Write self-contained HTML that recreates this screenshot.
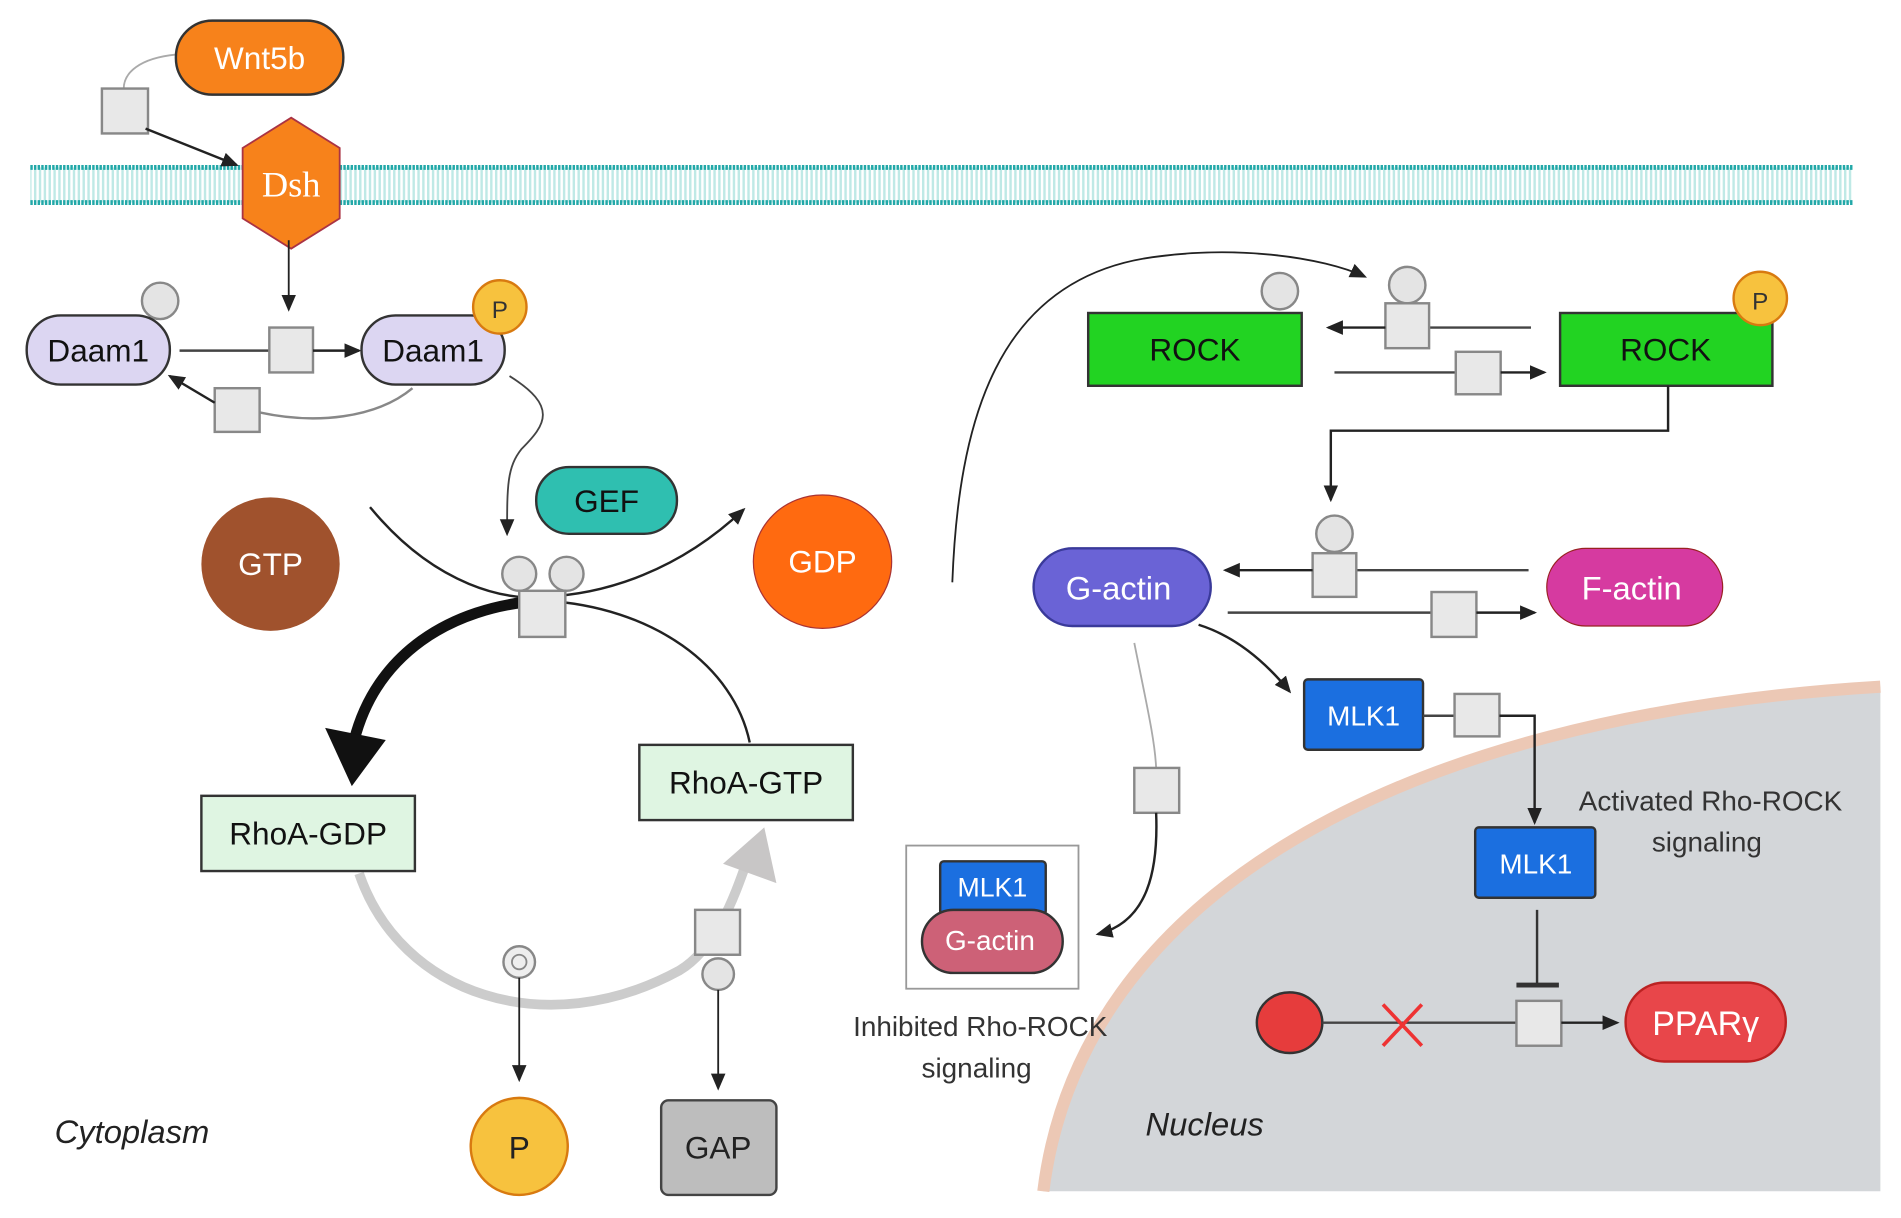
<!DOCTYPE html>
<html><head><meta charset="utf-8"><style>
html,body{margin:0;padding:0;background:#fff;}
svg{display:block;font-family:"Liberation Sans",sans-serif;}
</style></head><body>
<svg width="1901" height="1218" viewBox="0 0 1567 1004" xmlns="http://www.w3.org/2000/svg">
<defs>
<marker id="a" markerWidth="14" markerHeight="14" refX="12" refY="7" orient="auto" markerUnits="userSpaceOnUse"><path d="M0,1 L14,7 L0,13 Z" fill="#222"/></marker>
<pattern id="mem" width="4" height="30" patternUnits="userSpaceOnUse"><rect x="0" y="0" width="2" height="30" fill="#bfe9e6"/></pattern>
</defs>
<path d="M860,982 C890,740 1150,590 1550,566 L1550,982 Z" fill="#d3d6d9"/>
<path d="M860,982 C890,740 1150,590 1550,566" fill="none" stroke="#ecc8b5" stroke-width="10"/>
<rect x="25" y="138" width="1502" height="29" fill="url(#mem)"/>
<line x1="25" y1="138" x2="1527" y2="138" stroke="#22a8a8" stroke-width="4" stroke-dasharray="2,1"/>
<line x1="25" y1="167" x2="1527" y2="167" stroke="#22a8a8" stroke-width="4" stroke-dasharray="2,1"/>
<path d="M145,45 C115,48 102,60 102,73" fill="none" stroke="#aaa" stroke-width="1.5"/>
<rect x="145" y="17" width="138" height="61" rx="30" fill="#f7821b" stroke="#333" stroke-width="2"/>
<text x="214" y="57" font-size="26" fill="#fff" text-anchor="middle">Wnt5b</text>
<rect x="84" y="73" width="38" height="37" fill="#e8e8e8" stroke="#888" stroke-width="2"/>
<line x1="120" y1="106" x2="195" y2="136" stroke="#222" stroke-width="2" marker-end="url(#a)"/>
<polygon points="240,97 280,122 280,180 240,205 200,180 200,122" fill="#f7821b" stroke="#a34" stroke-width="1.5"/>
<text x="240" y="162" font-size="30" fill="#fff" text-anchor="middle" font-family="Liberation Serif,serif">Dsh</text>
<line x1="238" y1="198" x2="238" y2="255" stroke="#222" stroke-width="1.5" marker-end="url(#a)"/>
<circle cx="132" cy="248" r="15" fill="#e4e4e4" stroke="#888" stroke-width="2"/>
<rect x="22" y="260" width="118" height="57" rx="28" fill="#dcd6f2" stroke="#333" stroke-width="2"/>
<text x="81" y="298" font-size="26" fill="#111" text-anchor="middle">Daam1</text>
<line x1="148" y1="289" x2="222" y2="289" stroke="#444" stroke-width="2"/>
<rect x="222" y="270" width="36" height="37" fill="#e8e8e8" stroke="#888" stroke-width="2"/>
<line x1="258" y1="289" x2="296" y2="289" stroke="#222" stroke-width="2" marker-end="url(#a)"/>
<rect x="298" y="260" width="118" height="57" rx="28" fill="#dcd6f2" stroke="#333" stroke-width="2"/>
<text x="357" y="298" font-size="26" fill="#111" text-anchor="middle">Daam1</text>
<circle cx="412" cy="253" r="22" fill="#f7c23e" stroke="#d87a10" stroke-width="2"/>
<text x="412" y="262" font-size="20" fill="#333" text-anchor="middle">P</text>
<path d="M340,320 C310,345 260,350 214,340" fill="none" stroke="#888" stroke-width="2"/>
<rect x="177" y="320" width="37" height="36" fill="#e8e8e8" stroke="#888" stroke-width="2"/>
<line x1="177" y1="332" x2="140" y2="310" stroke="#222" stroke-width="2" marker-end="url(#a)"/>
<path d="M420,310 C460,335 450,350 430,370 C418,385 418,400 418,440" fill="none" stroke="#444" stroke-width="1.5" marker-end="url(#a)"/>
<rect x="442" y="385" width="116" height="55" rx="27" fill="#2fbfb0" stroke="#333" stroke-width="2"/>
<text x="500" y="422" font-size="26" fill="#111" text-anchor="middle">GEF</text>
<ellipse cx="223" cy="465" rx="57" ry="55" fill="#a0522d"/>
<text x="223" y="474" font-size="26" fill="#fff" text-anchor="middle">GTP</text>
<ellipse cx="678" cy="463" rx="57" ry="55" fill="#ff6a10" stroke="#a33" stroke-width="1"/>
<text x="678" y="472" font-size="26" fill="#fff" text-anchor="middle">GDP</text>
<path d="M305,418 C360,485 420,495 447,492 C500,490 560,470 613,420" fill="none" stroke="#222" stroke-width="2" marker-end="url(#a)"/>
<path d="M447,495 C370,500 310,540 292,610" fill="none" stroke="#111" stroke-width="9"/>
<polygon points="268,600 318,610 290,648" fill="#111"/>
<path d="M447,495 C540,500 605,550 618,612" fill="none" stroke="#222" stroke-width="2"/>
<circle cx="428" cy="473" r="14" fill="#e4e4e4" stroke="#888" stroke-width="2"/>
<circle cx="467" cy="473" r="14" fill="#e4e4e4" stroke="#888" stroke-width="2"/>
<rect x="428" y="487" width="38" height="38" fill="#e8e8e8" stroke="#888" stroke-width="2"/>
<path d="M296,720 C330,820 450,860 560,800 C590,782 605,740 615,712" fill="none" stroke="#ccc" stroke-width="8"/>
<polygon points="596,712 640,728 630,682" fill="#c8c6c6"/>
<rect x="166" y="656" width="176" height="62" fill="#dff5e2" stroke="#333" stroke-width="2"/>
<text x="254" y="696" font-size="26" fill="#111" text-anchor="middle">RhoA-GDP</text>
<rect x="527" y="614" width="176" height="62" fill="#dff5e2" stroke="#333" stroke-width="2"/>
<text x="615" y="654" font-size="26" fill="#111" text-anchor="middle">RhoA-GTP</text>
<circle cx="428" cy="793" r="13" fill="#eee" stroke="#888" stroke-width="2"/>
<circle cx="428" cy="793" r="6" fill="none" stroke="#888" stroke-width="1.5"/>
<line x1="428" y1="806" x2="428" y2="890" stroke="#222" stroke-width="1.5" marker-end="url(#a)"/>
<circle cx="428" cy="945" r="40" fill="#f7c23e" stroke="#d87a10" stroke-width="2"/>
<text x="428" y="955" font-size="26" fill="#222" text-anchor="middle">P</text>
<rect x="573" y="750" width="37" height="37" fill="#e8e8e8" stroke="#888" stroke-width="2"/>
<circle cx="592" cy="803" r="13" fill="#e4e4e4" stroke="#888" stroke-width="2"/>
<line x1="592" y1="816" x2="592" y2="897" stroke="#222" stroke-width="1.5" marker-end="url(#a)"/>
<rect x="545" y="907" width="95" height="78" rx="6" fill="#bdbdbd" stroke="#444" stroke-width="2"/>
<text x="592" y="955" font-size="26" fill="#222" text-anchor="middle">GAP</text>
<text x="45" y="942" font-size="27" font-style="italic" fill="#222">Cytoplasm</text>
<path d="M785,480 C790,350 820,230 950,212 C1020,202 1090,212 1125,228" fill="none" stroke="#222" stroke-width="1.5" marker-end="url(#a)"/>
<circle cx="1055" cy="240" r="15" fill="#e4e4e4" stroke="#888" stroke-width="2"/>
<rect x="897" y="258" width="176" height="60" fill="#22d322" stroke="#333" stroke-width="2"/>
<text x="985" y="297" font-size="26" fill="#111" text-anchor="middle">ROCK</text>
<line x1="1262" y1="270" x2="1178" y2="270" stroke="#444" stroke-width="2"/>
<circle cx="1160" cy="235" r="15" fill="#e4e4e4" stroke="#888" stroke-width="2"/>
<rect x="1142" y="250" width="36" height="37" fill="#e8e8e8" stroke="#888" stroke-width="2"/>
<line x1="1142" y1="270" x2="1095" y2="270" stroke="#222" stroke-width="2" marker-end="url(#a)"/>
<line x1="1100" y1="307" x2="1200" y2="307" stroke="#444" stroke-width="2"/>
<rect x="1200" y="290" width="37" height="35" fill="#e8e8e8" stroke="#888" stroke-width="2"/>
<line x1="1237" y1="307" x2="1273" y2="307" stroke="#222" stroke-width="2" marker-end="url(#a)"/>
<rect x="1286" y="258" width="175" height="60" fill="#22d322" stroke="#333" stroke-width="2"/>
<text x="1373" y="297" font-size="26" fill="#111" text-anchor="middle">ROCK</text>
<circle cx="1451" cy="246" r="22" fill="#f7c23e" stroke="#d87a10" stroke-width="2"/>
<text x="1451" y="255" font-size="20" fill="#333" text-anchor="middle">P</text>
<polyline points="1375,318 1375,355 1097,355 1097,412" fill="none" stroke="#222" stroke-width="2" marker-end="url(#a)"/>
<rect x="852" y="452" width="146" height="64" rx="32" fill="#6a63d6" stroke="#3a3a9a" stroke-width="2"/>
<text x="922" y="494" font-size="27" fill="#fff" text-anchor="middle">G-actin</text>
<rect x="1275" y="452" width="145" height="64" rx="32" fill="#d63aa0" stroke="#922" stroke-width="1"/>
<text x="1345" y="494" font-size="27" fill="#fff" text-anchor="middle">F-actin</text>
<line x1="1260" y1="470" x2="1118" y2="470" stroke="#444" stroke-width="2"/>
<circle cx="1100" cy="440" r="15" fill="#e4e4e4" stroke="#888" stroke-width="2"/>
<rect x="1082" y="456" width="36" height="36" fill="#e8e8e8" stroke="#888" stroke-width="2"/>
<line x1="1082" y1="470" x2="1010" y2="470" stroke="#222" stroke-width="2" marker-end="url(#a)"/>
<line x1="1012" y1="505" x2="1180" y2="505" stroke="#444" stroke-width="2"/>
<rect x="1180" y="488" width="37" height="37" fill="#e8e8e8" stroke="#888" stroke-width="2"/>
<line x1="1217" y1="505" x2="1265" y2="505" stroke="#222" stroke-width="2" marker-end="url(#a)"/>
<path d="M988,515 C1020,525 1045,548 1063,570" fill="none" stroke="#222" stroke-width="2" marker-end="url(#a)"/>
<rect x="1075" y="560" width="98" height="58" rx="3" fill="#1b6fe0" stroke="#333" stroke-width="2"/>
<text x="1124" y="598" font-size="23" fill="#fff" text-anchor="middle">MLK1</text>
<line x1="1173" y1="590" x2="1199" y2="590" stroke="#444" stroke-width="2"/>
<rect x="1199" y="572" width="37" height="35" fill="#e8e8e8" stroke="#888" stroke-width="2"/>
<polyline points="1236,590 1265,590 1265,678" fill="none" stroke="#222" stroke-width="2" marker-end="url(#a)"/>
<rect x="1216" y="682" width="99" height="58" rx="3" fill="#1b6fe0" stroke="#333" stroke-width="2"/>
<text x="1266" y="720" font-size="23" fill="#fff" text-anchor="middle">MLK1</text>
<text x="1410" y="668" font-size="23" fill="#333" text-anchor="middle">Activated Rho-ROCK</text>
<text x="1407" y="702" font-size="23" fill="#333" text-anchor="middle">signaling</text>
<line x1="1267" y1="750" x2="1267" y2="812" stroke="#333" stroke-width="2"/>
<line x1="1250" y1="812" x2="1285" y2="812" stroke="#333" stroke-width="4"/>
<ellipse cx="1063" cy="843" rx="27" ry="25" fill="#e63c3c" stroke="#333" stroke-width="2"/>
<line x1="1090" y1="843" x2="1250" y2="843" stroke="#444" stroke-width="2"/>
<line x1="1140" y1="828" x2="1172" y2="862" stroke="#e33" stroke-width="3"/>
<line x1="1172" y1="828" x2="1140" y2="862" stroke="#e33" stroke-width="3"/>
<rect x="1250" y="825" width="37" height="37" fill="#e8e8e8" stroke="#888" stroke-width="2"/>
<line x1="1287" y1="843" x2="1333" y2="843" stroke="#222" stroke-width="2" marker-end="url(#a)"/>
<rect x="1340" y="810" width="132" height="65" rx="32" fill="#e8464a" stroke="#b22" stroke-width="2"/>
<text x="1406" y="853" font-size="28" fill="#fff" text-anchor="middle">PPARγ</text>
<path d="M935,530 C945,580 952,610 953,633" fill="none" stroke="#aaa" stroke-width="1.5"/>
<rect x="935" y="633" width="37" height="37" fill="#e8e8e8" stroke="#888" stroke-width="2"/>
<path d="M953,670 C955,720 945,760 905,770" fill="none" stroke="#222" stroke-width="2" marker-end="url(#a)"/>
<rect x="747" y="697" width="142" height="118" fill="#fff" stroke="#999" stroke-width="1.5"/>
<rect x="775" y="710" width="87" height="44" rx="3" fill="#1b6fe0" stroke="#333" stroke-width="2"/>
<text x="818" y="739" font-size="22" fill="#fff" text-anchor="middle">MLK1</text>
<rect x="760" y="750" width="116" height="52" rx="26" fill="#cd6177" stroke="#333" stroke-width="2"/>
<text x="816" y="783" font-size="23" fill="#fff" text-anchor="middle">G-actin</text>
<text x="808" y="854" font-size="23" fill="#333" text-anchor="middle">Inhibited Rho-ROCK</text>
<text x="805" y="888" font-size="23" fill="#333" text-anchor="middle">signaling</text>
<text x="993" y="936" font-size="27" font-style="italic" fill="#222" text-anchor="middle">Nucleus</text>
</svg>
</body></html>
